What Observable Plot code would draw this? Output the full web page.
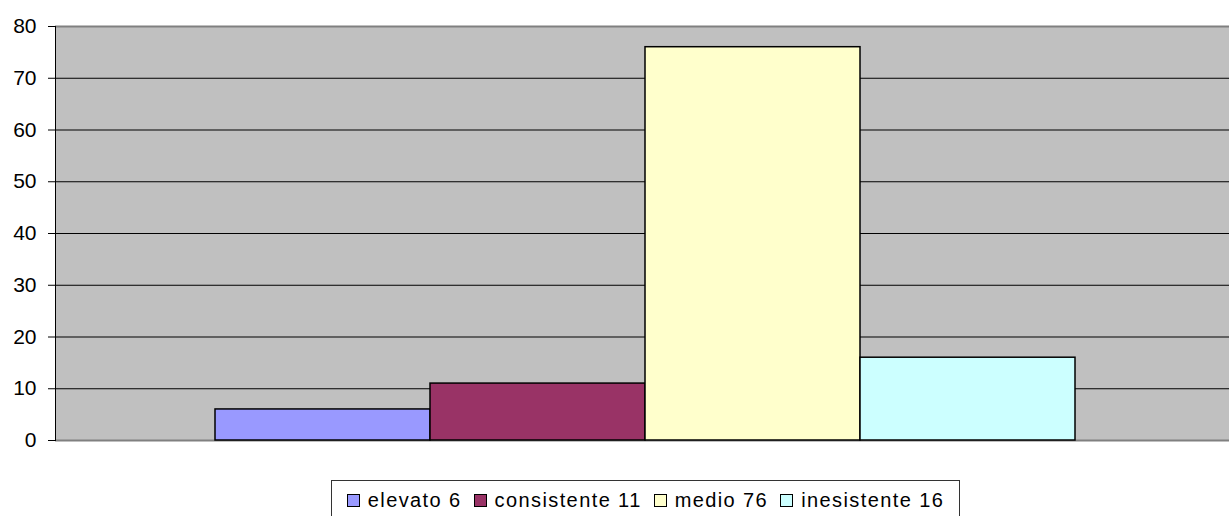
<!DOCTYPE html>
<html>
<head>
<meta charset="utf-8">
<script src="https://cdn.jsdelivr.net/npm/d3@7"></script>
<script src="https://cdn.jsdelivr.net/npm/@observablehq/plot@0.6"></script>
<style>
  html, body { margin: 0; padding: 0; background: #fff; overflow: hidden; }
  #chart svg { display: block; }
  #legend {
    position: absolute; left: 331px; top: 480px; width: 627px; height: 60px;
    border: 1px solid #333; box-sizing: content-box;
    font-family: "Liberation Sans", Arial, sans-serif; font-size: 20px; line-height: 22px;
    letter-spacing: 1.4px;
    text-align: center; padding-top: 8px; white-space: nowrap; color: #000;
  }
  .item { display: inline-block; margin: 0 6px; }
  .sw { display: inline-block; width: 11px; height: 11px; border: 1px solid #000; margin-right: 8px; vertical-align: 0px; }
</style>
</head>
<body>
<div id="chart"></div>
<div id="legend"></div>
<script>
const categories = ["elevato", "consistente", "medio", "inesistente"];
const values = [6, 11, 76, 16];
const colors = ["#9999FF", "#993366", "#FFFFCC", "#CCFFFF"];
const yTicks = [0, 10, 20, 30, 40, 50, 60, 70, 80];
const gridTicks = [10, 20, 30, 40, 50, 60, 70];

const data = categories.map((c, i) => ({category: c, value: values[i], color: colors[i]}));

const chart = Plot.plot({
  width: 1229,
  height: 480,
  marginLeft: 55,
  marginRight: 0,
  marginTop: 26,
  marginBottom: 40,
  x: {domain: categories, paddingInner: 0, paddingOuter: 0.73, align: 0.51, axis: null},
  y: {domain: [0, 80], label: null},
  style: {fontFamily: "'Liberation Sans', Arial, sans-serif", fontSize: "21px", color: "#000", background: "#fff"},
  marks: [
    Plot.frame({fill: "#C0C0C0", stroke: null}),
    Plot.ruleY(gridTicks, {stroke: "#000", strokeWidth: 1}),
    Plot.ruleY([80], {stroke: "#808080", strokeWidth: 2}),
    Plot.ruleY([0], {stroke: "#808080", strokeWidth: 2}),
    Plot.barY(data, {x: "category", y: "value", fill: "color", stroke: "#000", strokeWidth: 1.5}),
    Plot.frame({anchor: "left", stroke: "#000"}),
    Plot.axisY(yTicks, {tickSize: 7, tickPadding: 12, stroke: "#000", fill: "#000", fontSize: 21, label: null})
  ]
});
document.getElementById("chart").appendChild(chart);

const legend = document.getElementById("legend");
categories.forEach((c, i) => {
  const s = document.createElement("span");
  s.className = "item";
  const sw = document.createElement("span");
  sw.className = "sw";
  sw.style.background = colors[i];
  s.appendChild(sw);
  s.appendChild(document.createTextNode(c + " " + values[i]));
  legend.appendChild(s);
});
</script>
</body>
</html>
